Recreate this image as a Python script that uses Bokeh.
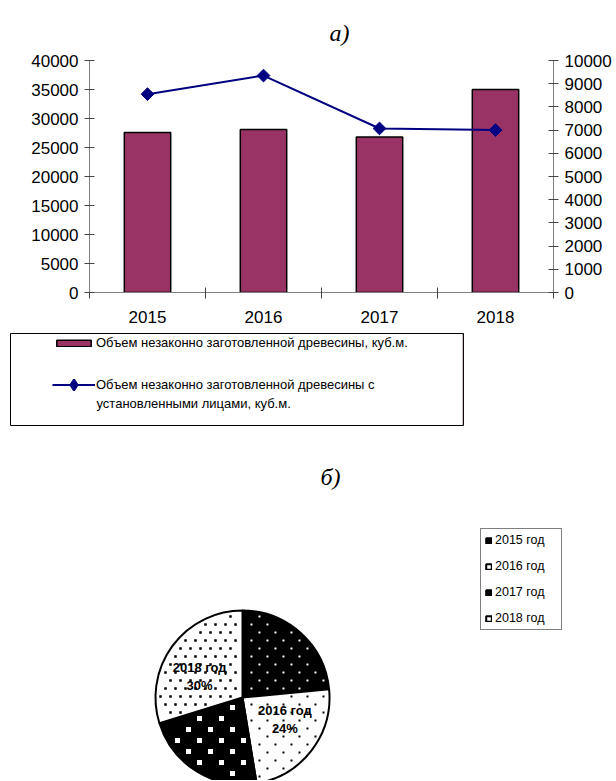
import numpy as np
from bokeh.plotting import figure
from bokeh.models import (Range1d, LinearAxis, FixedTicker, Legend, LegendItem, Label)
from bokeh.layouts import column, row
from bokeh.embed import file_html
from bokeh.resources import INLINE
from bokeh.core.properties import value

# ---------------- data ----------------
years = ["2015", "2016", "2017", "2018"]
illegal_volume = [27600, 28100, 26800, 35000]          # bars, left axis, куб.м.
identified_volume = [8550, 9350, 7070, 7000]           # line, right axis, куб.м.
left_ticks = [0, 5000, 10000, 15000, 20000, 25000, 30000, 35000, 40000]
right_ticks = [0, 1000, 2000, 3000, 4000, 5000, 6000, 7000, 8000, 9000, 10000]
bar_label = "Объем незаконно заготовленной древесины, куб.м."
line_label_1 = "Объем незаконно заготовленной древесины с"
line_label_2 = "установленными лицами, куб.м."
pie_labels = ["2015 год", "2016 год", "2017 год", "2018 год"]
pie_label_visible = [False, True, False, True]

FONT = "Liberation Sans"
SERIF = "Liberation Serif"
BAR_COLOR = "#993366"
LINE_COLOR = "#000080"
AX_COLOR = "#808080"
TICK_COLOR = "#444444"
W = 615


def blank(fig):
    fig.xgrid.visible = False
    fig.ygrid.visible = False
    fig.outline_line_color = None


# ---------------- header "а)" ----------------
H0 = 48
hd = figure(width=W, height=H0, x_range=Range1d(0, W), y_range=Range1d(0, H0),
            output_backend="svg", toolbar_location=None, min_border=0,
            x_axis_location=None, y_axis_location=None)
blank(hd)
hd.add_layout(Label(x=339, y=H0 - 32, text="а)", text_font=SERIF, text_font_style="italic",
                    text_font_size="24px", text_align="center", text_baseline="middle",
                    text_color="black"))

# ---------------- chart а) ----------------
xpos = list(range(1, len(years) + 1))

p = figure(width=W, height=285, x_range=Range1d(0.5, len(years) + 0.5),
           y_range=Range1d(0, 40000), output_backend="svg", toolbar_location=None,
           min_border_left=89, min_border_right=W - 553, min_border_top=12,
           min_border_bottom=41, x_axis_location=None, y_axis_location=None)
p.extra_y_ranges = {"right": Range1d(0, 10000)}
blank(p)

xaxis = LinearAxis(ticker=FixedTicker(ticks=xpos, minor_ticks=[x - 0.5 for x in xpos] + [xpos[-1] + 0.5]),
                   major_label_overrides={x: y for x, y in zip(xpos, years)})
xaxis.major_tick_in = 0
xaxis.major_tick_out = 0
xaxis.minor_tick_in = 5
xaxis.minor_tick_out = 6
xaxis.minor_tick_line_color = TICK_COLOR
xaxis.axis_line_color = AX_COLOR
xaxis.major_label_standoff = 12
xaxis.major_label_text_font = FONT
xaxis.major_label_text_font_size = "17px"
xaxis.major_label_text_color = "black"
p.add_layout(xaxis, "below")

yl = LinearAxis(ticker=FixedTicker(ticks=left_ticks, minor_ticks=[]))
yr = LinearAxis(ticker=FixedTicker(ticks=right_ticks, minor_ticks=[]), y_range_name="right")
for ax in (yl, yr):
    ax.major_tick_in = 5
    ax.major_tick_out = 5
    ax.minor_tick_in = 0
    ax.minor_tick_out = 0
    ax.major_tick_line_color = TICK_COLOR
    ax.axis_line_color = AX_COLOR
    ax.major_label_standoff = 6
    ax.major_label_text_font = FONT
    ax.major_label_text_font_size = "17px"
    ax.major_label_text_color = "black"
p.add_layout(yl, "left")
p.add_layout(yr, "right")

p.vbar(x=xpos, top=illegal_volume, width=0.4, fill_color=BAR_COLOR,
       line_color="black", line_width=1.5)
p.line(x=xpos, y=identified_volume, y_range_name="right",
       line_color=LINE_COLOR, line_width=2)
p.scatter(x=xpos, y=identified_volume, y_range_name="right", marker="square",
          angle=np.pi / 4, size=9, fill_color=LINE_COLOR, line_color=LINE_COLOR)

# ---------------- legend of chart а) (its own framed box) ----------------
lg = figure(width=W, height=115, x_range=Range1d(0, 1), y_range=Range1d(0, 1),
            output_backend="svg", toolbar_location=None,
            min_border_left=10, min_border_right=W - 463, min_border_top=0,
            min_border_bottom=23, x_axis_location=None, y_axis_location=None)
blank(lg)
lg.outline_line_color = "black"
lg.outline_line_width = 1
# swatch-only renderers: their single sample lies outside the visible range
lg_bar = lg.vbar(x=[5], top=[1], width=0.4, fill_color=BAR_COLOR, line_color="black", line_width=1.5)
lg_line = lg.line(x=[5, 6], y=[0.5, 0.5], line_color=LINE_COLOR, line_width=2)
lg_mark = lg.scatter(x=[5], y=[0.5], marker="diamond", size=9, line_width=2,
                     fill_color=LINE_COLOR, line_color=LINE_COLOR)
common = dict(margin=0, padding=2, glyph_width=43, label_standoff=1,
              label_text_font=FONT, label_text_font_size="13px", label_text_color="black",
              border_line_alpha=0, background_fill_alpha=0)
legend1 = Legend(items=[LegendItem(label=bar_label, renderers=[lg_bar])],
                 location=(40, 73), glyph_height=8, **common)
legend2 = Legend(items=[LegendItem(label=line_label_1, renderers=[lg_line, lg_mark])],
                 location=(40, 25), glyph_height=27, **common)
lg.add_layout(legend1, "center")
lg.add_layout(legend2, "center")
lg.add_layout(Label(x=86, y=22, x_units="screen", y_units="screen", text=line_label_2,
                    text_font=FONT, text_font_size="13px", text_color="black",
                    text_baseline="middle"))

# ---------------- chart б) ----------------
H2 = 332
q = figure(width=W, height=H2, x_range=Range1d(0, W), y_range=Range1d(0, H2),
           output_backend="svg", toolbar_location=None, min_border=0,
           x_axis_location=None, y_axis_location=None)
blank(q)

cx, cy, R = 242, 83, 87
total = float(sum(illegal_volume))
shares = [v / total for v in illegal_volume]
fills = ["black", "white", "black", "white"]
dot_colors = ["white", "black", "white", "black"]
dot_sizes = [2, 2, 5, 2.5]
dot_steps = [(16, 8), (16, 8), (22, 11), (10, 8)]   # staggered lattice (dx, dy)

wedges = []
spans = []
ang = np.pi / 2
label_x, label_y, label_t = [], [], []
for i, s in enumerate(shares):
    end = ang - 2 * np.pi * s
    w = q.wedge(x=[cx], y=[cy], radius=R, start_angle=ang, end_angle=end, direction="clock",
                fill_color=fills[i], line_color="black", line_width=2)
    wedges.append(w)
    spans.append((ang, end))
    mid = (ang + end) / 2 + np.radians(10)
    if pie_label_visible[i]:
        label_x.append(cx + 0.55 * R * np.cos(mid))
        label_y.append(cy + 0.55 * R * np.sin(mid))
        label_t.append(f"{pie_labels[i]}\n{round(s * 100)}%")
    ang = end

# dotted fill patterns of the slices
for i, (a0, a1) in enumerate(spans):
    dx, dy = dot_steps[i]
    m = dot_sizes[i] / 2 + 2
    px, py = [], []
    for j, yy in enumerate(np.arange(cy - R, cy + R + dy, dy)):
        off = (dx / 2) * (j % 2)
        for xx in np.arange(cx - R - dx + off, cx + R + dx, dx):
            r = np.hypot(xx - cx, yy - cy)
            if r > R - m - 1 or r < 1e-6:
                continue
            th = np.arctan2(yy - cy, xx - cx)
            delta = (a0 - th) % (2 * np.pi)
            span = a0 - a1
            if delta >= span:
                continue
            d1 = r * np.sin(delta) if delta < np.pi / 2 else r
            d2 = r * np.sin(span - delta) if span - delta < np.pi / 2 else r
            if d1 < m or d2 < m:
                continue
            px.append(xx)
            py.append(yy)
    q.scatter(x=px, y=py, marker="square", size=dot_sizes[i],
              fill_color=dot_colors[i], line_color=None)

q.text(x=label_x, y=label_y, text=label_t, text_font=value(FONT), text_font_style="bold",
       text_font_size="13px", text_align="center", text_baseline="middle",
       text_line_height=1.2, text_color="black")

pie_legend = Legend(items=[LegendItem(label=lab, renderers=[w]) for lab, w in zip(pie_labels, wedges)],
                    location=(480, H2 - (630 - 448)), margin=0, padding=4, spacing=12,
                    glyph_width=7, glyph_height=7, label_standoff=3, label_width=62,
                    label_text_font=FONT, label_text_font_size="12.5px",
                    label_text_color="black",
                    border_line_color="black", border_line_width=1,
                    background_fill_color="white")
q.add_layout(pie_legend, "center")

q.add_layout(Label(x=330, y=H2 - (476 - 448), text="б)",
                   text_font=SERIF, text_font_style="italic", text_font_size="24px",
                   text_align="center", text_baseline="middle", text_color="black"))

layout = column(row(hd), row(p), row(lg), row(q))
open("out.html", "w").write(file_html(layout, INLINE))
